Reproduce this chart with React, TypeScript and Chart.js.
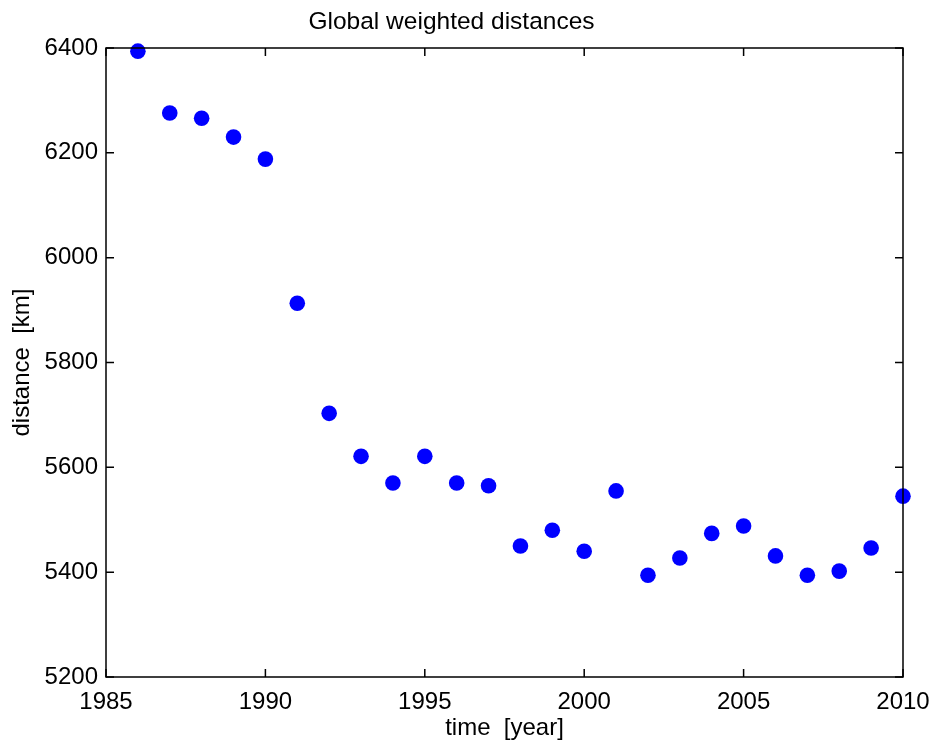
import React, { useEffect, useRef } from "react";
import { Chart, registerables } from "chart.js";

Chart.register(...registerables);

const years: number[] = [1986, 1987, 1988, 1989, 1990, 1991, 1992, 1993, 1994, 1995, 1996, 1997, 1998, 1999, 2000, 2001, 2002, 2003, 2004, 2005, 2006, 2007, 2008, 2009, 2010];
const distances: number[] = [6394, 6276, 6266, 6230, 6188, 5913, 5703, 5621, 5570, 5621, 5570, 5565, 5450, 5480, 5440, 5555, 5394, 5427, 5474, 5488, 5431, 5394, 5402, 5446, 5545];

const xTicks: number[] = [1985, 1990, 1995, 2000, 2005, 2010];
const yTicks: number[] = [5200, 5400, 5600, 5800, 6000, 6200, 6400];

const FONT = "'Liberation Sans', Arial, Helvetica, sans-serif";

const boxPlugin = {
  id: "matlabBox",
  afterDatasetsDraw(chart: any) {
    const { ctx, chartArea, scales } = chart;
    const { left, right, top, bottom } = chartArea;
    const len = 8;
    ctx.save();
    ctx.strokeStyle = "#000";
    ctx.lineWidth = 1.5;
    ctx.beginPath();
    ctx.rect(left, top, right - left, bottom - top);
    ctx.stroke();
    ctx.beginPath();
    for (const v of xTicks) {
      const x = scales.x.getPixelForValue(v);
      ctx.moveTo(x, bottom);
      ctx.lineTo(x, bottom - len);
      ctx.moveTo(x, top);
      ctx.lineTo(x, top + len);
    }
    for (const v of yTicks) {
      const y = scales.y.getPixelForValue(v);
      ctx.moveTo(left, y);
      ctx.lineTo(left + len, y);
      ctx.moveTo(right, y);
      ctx.lineTo(right - len, y);
    }
    ctx.stroke();
    ctx.restore();
  },
};

export default function App() {
  const ref = useRef<HTMLCanvasElement | null>(null);
  useEffect(() => {
    if (!ref.current) return;
    const chart = new Chart(ref.current, {
      type: "scatter",
      data: {
        datasets: [
          {
            data: years.map((y, i) => ({ x: y, y: distances[i] })),
            backgroundColor: "#0000ff",
            borderColor: "#0000ff",
            pointRadius: 7.8,
            pointHoverRadius: 7.8,
            borderWidth: 0,
            clip: false,
          },
        ],
      },
      options: {
        animation: false,
        responsive: false,
        events: [],
        layout: { padding: { left: 0, right: 30, top: 0, bottom: 0 } },
        plugins: {
          legend: { display: false },
          tooltip: { enabled: false },
          title: {
            display: true,
            text: "Global weighted distances",
            color: "#000",
            font: { family: FONT, size: 24.5, weight: "normal" },
            padding: { top: 7.3, bottom: 11.3 },
          },
        },
        scales: {
          x: {
            type: "linear",
            min: 1985,
            max: 2010,
            afterBuildTicks: (s: any) => {
              s.ticks = xTicks.map((v) => ({ value: v }));
            },
            afterFit: (s: any) => {
              s.height = 66;
              s.paddingLeft = 0;
              s.paddingRight = 0;
            },
            grid: { display: false, drawTicks: false },
            border: { display: false },
            ticks: {
              color: "#000",
              font: { family: FONT, size: 24 },
              padding: 11,
              maxRotation: 0,
              callback: (v: any) => String(v),
            },
            title: {
              display: true,
              text: "time  [year]",
              color: "#000",
              font: { family: FONT, size: 24 },
              padding: { top: 0, bottom: 0.6 },
            },
          },
          y: {
            type: "linear",
            min: 5200,
            max: 6400,
            afterBuildTicks: (s: any) => {
              s.ticks = yTicks.map((v) => ({ value: v }));
            },
            afterFit: (s: any) => {
              s.width = 106;
              s.paddingTop = 0;
              s.paddingBottom = 0;
            },
            grid: { display: false, drawTicks: false },
            border: { display: false },
            ticks: {
              color: "#000",
              font: { family: FONT, size: 24 },
              padding: 8,
              callback: (v: any) => String(v),
            },
            title: {
              display: true,
              text: "distance  [km]",
              color: "#000",
              font: { family: FONT, size: 24 },
              padding: { top: 7.6, bottom: 0 },
            },
          },
        },
      },
      plugins: [boxPlugin],
    });
    return () => chart.destroy();
  }, []);
  return (
    <div style={{ position: "absolute", left: 0, top: 0, width: 933, height: 743, background: "#fff" }}>
      <canvas ref={ref} width={933} height={743} style={{ width: 933, height: 743 }} />
    </div>
  );
}
